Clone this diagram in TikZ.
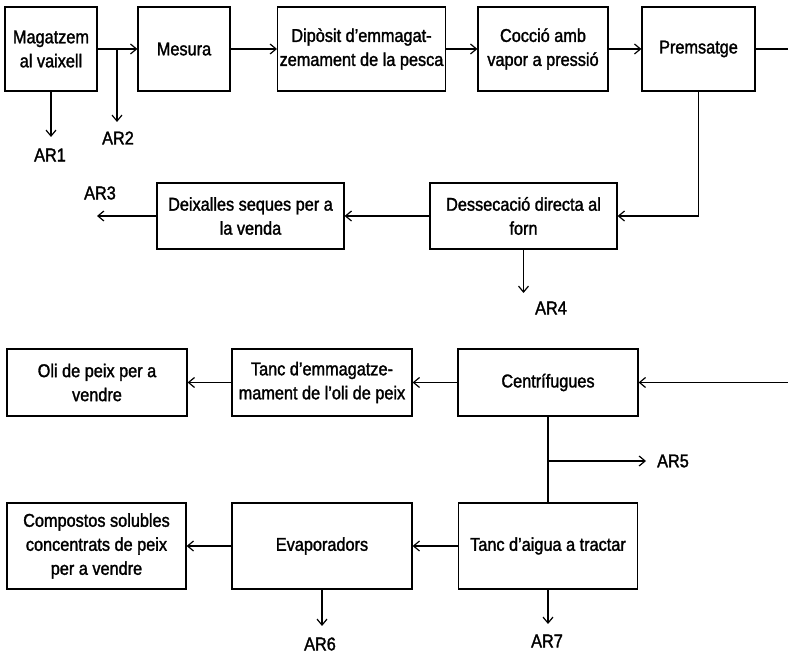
\documentclass[tikz,border=0pt]{standalone}
\usepackage{fontspec}
\setmainfont{Liberation Sans}[FakeStretch=0.88,FakeBold=1.6]
\usetikzlibrary{arrows.meta}
\tikzset{
	procbox/.style={draw,line width=1.2pt,inner sep=2pt,align=center,font=\fontsize{18.5}{24}\selectfont},
	tag/.style={inner sep=0pt,font=\fontsize{18.5}{20}\selectfont},
	wire/.style={line width=1.1pt},
	flow/.style={wire,-{Straight Barb[length=6pt,width=10pt,line width=1.2pt]}}
}
\begin{document}
\begin{tikzpicture}[x=1pt,y=1pt]
	\useasboundingbox (0,0) rectangle (788,654);
	\node[procbox,minimum width=92,minimum height=84] (mag) at (51,605) {Magatzem\\al vaixell};
	\node[procbox,minimum width=92,minimum height=84] (mes) at (184,605) {Mesura};
	\node[procbox,minimum width=167,minimum height=84] (dep) at (361.5,605) {Dipòsit d’emmagat-\\zemament de la pesca};
	\node[procbox,minimum width=130,minimum height=84] (coc) at (543,605) {Cocció amb\\vapor a pressió};
	\node[procbox,minimum width=113,minimum height=84] (prem) at (698.5,605) {Premsatge};
	\node[procbox,minimum width=187,minimum height=66] (deix) at (250.5,438) {Deixalles seques per a\\la venda};
	\node[procbox,minimum width=187,minimum height=66] (dess) at (523.5,438) {Dessecació directa al\\forn};
	\node[procbox,minimum width=180,minimum height=67] (oli) at (97,271.5) {Oli de peix per a\\vendre};
	\node[procbox,minimum width=180,minimum height=67] (tancoli) at (322,271.5) {Tanc d’emmagatze-\\mament de l’oli de peix};
	\node[procbox,minimum width=180,minimum height=67] (cent) at (548,271.5) {Centrífugues};
	\node[procbox,minimum width=179,minimum height=86] (comp) at (96.5,108) {Compostos solubles\\concentrats de peix\\per a vendre};
	\node[procbox,minimum width=180,minimum height=86] (evap) at (322,108) {Evaporadors};
	\node[procbox,minimum width=179,minimum height=86] (tanc) at (548,108) {Tanc d’aigua a tractar};
	% free ends of the waste streams
	\coordinate (e1) at (51,517);
	\coordinate (e2) at (117,532);
	\coordinate (e3) at (97,438);
	\coordinate (e4) at (523.5,361);
	\coordinate (e5) at (646,193);
	\coordinate (e6) at (322,28);
	\coordinate (e7) at (548,30);
	\coordinate (out) at (788,605);
	\coordinate (in) at (788,271.5);
	\node[tag] (ar1) at (50,499) {AR1};
	\node[tag] (ar2) at (118,516) {AR2};
	\node[tag] (ar3) at (100,461) {AR3};
	\node[tag] (ar4) at (551,346) {AR4};
	\node[tag] (ar5) at (673,193) {AR5};
	\node[tag] (ar6) at (320,10) {AR6};
	\node[tag] (ar7) at (547,13) {AR7};
	\draw[flow] (mag.east) -- (mes.west);
	\draw[flow] (mes.east) -- (dep.west);
	\draw[flow] (dep.east) -- (coc.west);
	\draw[flow] (coc.east) -- (prem.west);
	\draw[wire] (prem.east) -- (out);
	\draw[flow] (prem.south) |- (dess.east);
	\draw[flow] (dess.west) -- (deix.east);
	\draw[flow] (in) -- (cent.east);
	\draw[flow] (cent.west) -- (tancoli.east);
	\draw[flow] (tancoli.west) -- (oli.east);
	\draw[wire] (cent.south) -- (tanc.north);
	\draw[flow] (tanc.west) -- (evap.east);
	\draw[flow] (evap.west) -- (comp.east);
	\draw[flow] (mag.south) -- (e1);
	\draw[flow] (mag.east -| e2) -- (e2);
	\draw[flow] (deix.west) -- (e3);
	\draw[flow] (dess.south) -- (e4);
	\draw[flow] (cent.south |- e5) -- (e5);
	\draw[flow] (evap.south) -- (e6);
	\draw[flow] (tanc.south) -- (e7);
\end{tikzpicture}
\end{document}
